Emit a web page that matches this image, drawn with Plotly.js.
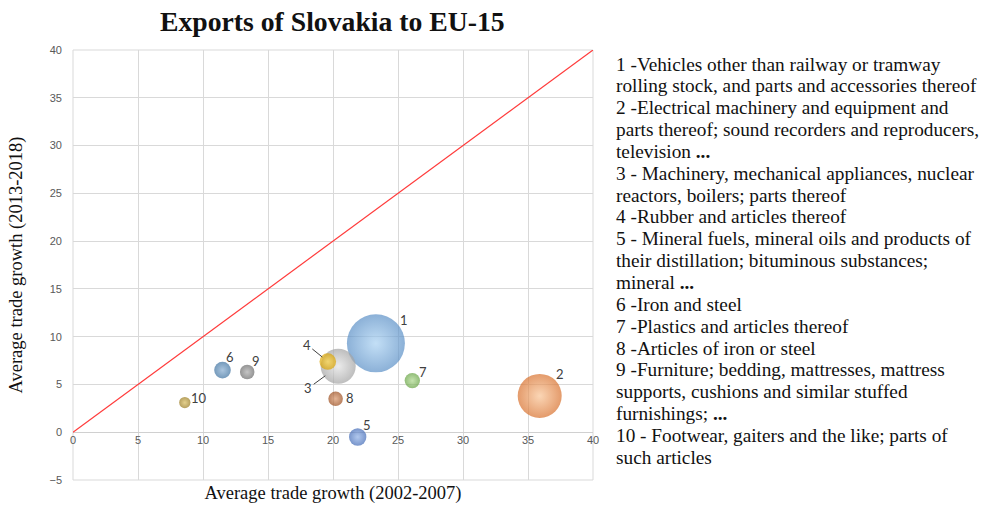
<!DOCTYPE html>
<html>
<head>
<meta charset="utf-8">
<script src="https://cdn.plot.ly/plotly-3.0.1.min.js"></script>
<style>html,body{margin:0;padding:0;background:#fff;}#chart{width:992px;height:512px;}</style>
</head>
<body>
<div id="chart"></div>
<script>
// ---- data ----
const labels = ["1","2","3","4","5","6","7","8","9","10"];
const growth0207 = [23.3, 35.9, 20.4, 19.6, 21.9, 11.5, 26.1, 20.2, 13.4, 8.6];
const growth1318 = [9.3, 3.8, 6.9, 7.4, -0.5, 6.5, 5.4, 3.5, 6.3, 3.1];
const tradeSize  = [100, 57.5, 36.4, 8.2, 9.0, 8.2, 7.0, 6.3, 6.3, 3.8];
const descriptions = [
  "1 -Vehicles other than railway or tramway",
  "rolling stock, and parts and accessories thereof",
  "2 -Electrical machinery and equipment and",
  "parts thereof; sound recorders and reproducers,",
  "television <b>...</b>",
  "3 - Machinery, mechanical appliances, nuclear",
  "reactors, boilers; parts thereof",
  "4 -Rubber and articles thereof",
  "5 - Mineral fuels, mineral oils and products of",
  "their distillation; bituminous substances;",
  "mineral <b>...</b>",
  "6 -Iron and steel",
  "7 -Plastics and articles thereof",
  "8 -Articles of iron or steel",
  "9 -Furniture; bedding, mattresses, mattress",
  "supports, cushions and similar stuffed",
  "furnishings; <b>...</b>",
  "10 - Footwear, gaiters and the like; parts of",
  "such articles"
];
const diagX = [0, 40];
const diagY = [0, 40];

// ---- styles ----
const SERIF = "Liberation Serif, Times New Roman, serif";
const edgeColors   = ["#5a8fc6","#d8702c","#a2a2a2","#d9a200","#3f68b5","#3a6f9e","#62a03e","#9a4a1a","#666666","#96771a"];
const centerColors = ["#a9d1f2","#f9c495","#e2e2e2","#ffd84a","#8fb0e6","#86acd0","#acd88c","#d89468","#ababab","#d8bc5c"];
// label offsets in px: [dx, dy(down), arrow?, standoff]
const labelStyle = [
  [28,-23,false,0],[20,-22,false,0],[-30,22,true,16],[-21,-17,true,7],[9,-12,false,0],
  [7,-13,false,0],[11,-9,false,0],[14,-1,false,0],[9,-11,false,0],[14,-5,false,0]
];
// description block layout (plot area: top 50px, height 430px)
const plotTop = 50, plotH = 430, descFirst = 64, descStep = 21.85;

const maxDiam = 58;
const traces = [{
  x: diagX, y: diagY, type: "scatter", mode: "lines",
  line: {color: "#ff3b3b", width: 1.2}, hoverinfo: "skip", showlegend: false
}];
labels.forEach((l, i) => {
  traces.push({
    x: [growth0207[i]], y: [growth1318[i]], type: "scatter", mode: "markers",
    name: l, showlegend: false, hoverinfo: "x+y+name",
    marker: {
      size: [tradeSize[i]], sizemode: "area",
      sizeref: 2 * Math.max(...tradeSize) / (maxDiam * maxDiam),
      color: edgeColors[i],
      gradient: {type: "radial", color: centerColors[i]},
      line: {width: 0}
    }
  });
});

const annotations = labels.map((l, i) => {
  const s = labelStyle[i];
  const a = {
    x: growth0207[i], y: growth1318[i], xref: "x", yref: "y",
    text: l, font: {family: "Lato, Liberation Sans, sans-serif", size: 13, color: "#404040"}
  };
  if (s[2]) {
    Object.assign(a, {showarrow: true, ax: s[0], ay: s[1], arrowhead: 0, arrowwidth: 1,
      arrowcolor: "#404040", standoff: s[3]});
  } else {
    Object.assign(a, {showarrow: false, xshift: s[0], yshift: -s[1]});
  }
  return a;
});
descriptions.forEach((line, i) => {
  const py = descFirst + descStep * i;
  annotations.push({
    xref: "paper", yref: "paper", x: 1.04, y: (plotTop + plotH - py) / plotH,
    xanchor: "left", yanchor: "middle", align: "left", showarrow: false,
    text: line,
    font: {family: SERIF, size: 19.3, color: "#111"}
  });
});

const layout = {
  width: 992, height: 512,
  margin: {l: 73, r: 399, t: 50, b: 32},
  paper_bgcolor: "#fff", plot_bgcolor: "#fff",
  title: {text: "<b>Exports of Slovakia to EU-15</b>", x: 0.335, xanchor: "center", y: 0.958, yanchor: "middle",
    font: {family: SERIF, size: 27.7, color: "#111"}},
  xaxis: {
    range: [0, 40], dtick: 5, tick0: 0, anchor: "free", position: 5/45,
    showgrid: true, gridcolor: "#d9d9d9", gridwidth: 1, zeroline: false,
    showline: false, ticks: "", ticklen: 0,
    tickfont: {family: "Liberation Sans, Arial, sans-serif", size: 11, color: "#595959"},
    title: {text: "Average trade growth (2002-2007)", standoff: 40,
      font: {family: SERIF, size: 18.5, color: "#111"}}
  },
  yaxis: {
    range: [-5, 40], dtick: 5, tick0: 0, ticklabelstandoff: 10,
    showgrid: true, gridcolor: "#d9d9d9", gridwidth: 1, zeroline: true, zerolinecolor: "#d0d0d0", zerolinewidth: 1,
    showline: false, ticks: "", ticklen: 0,
    tickfont: {family: "Liberation Sans, Arial, sans-serif", size: 11, color: "#595959"},
    title: {text: "Average trade growth (2013-2018)", standoff: 21,
      font: {family: SERIF, size: 18.5, color: "#111"}}
  },
  annotations: annotations,
  shapes: [{type: "rect", xref: "paper", yref: "paper", x0: 0, x1: 1, y0: 0, y1: 1,
    line: {color: "#d9d9d9", width: 1}, layer: "below"}]
};

Plotly.newPlot("chart", traces, layout, {displayModeBar: false, staticPlot: true});
</script>
</body>
</html>
